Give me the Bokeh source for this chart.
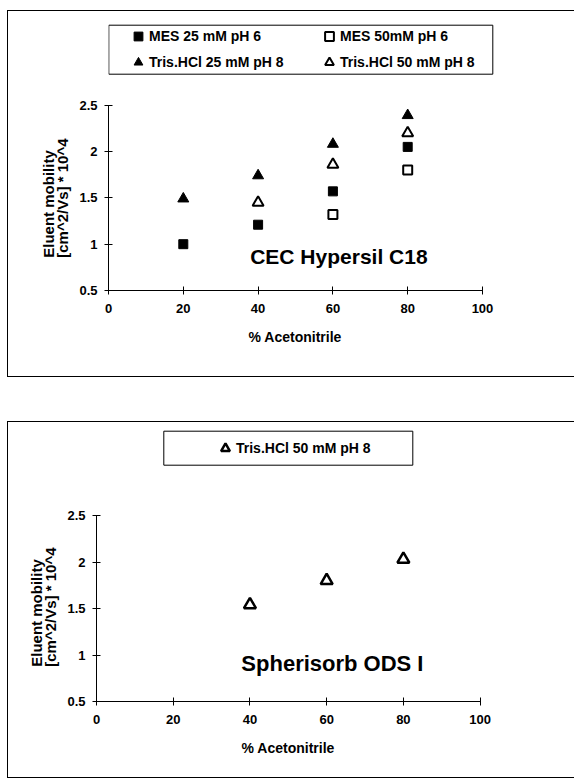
from bokeh.plotting import figure
from bokeh.models import (Range1d, Legend, LegendItem, Label, FixedTicker,
                          CustomJSTickFormatter, BoxAnnotation, Title)
from bokeh.embed import file_html
from bokeh.resources import INLINE

FONT = "Liberation Sans"

# ---- data ----
acn_top = [20, 40, 60, 80]
mes25_top = [1.00, 1.21, 1.57, 2.05]
acn_mes50 = [60, 80]
mes50_top = [1.32, 1.80]
tris25_top = [1.49, 1.74, 2.08, 2.39]
acn_tris50 = [40, 60, 80]
tris50_top = [1.45, 1.86, 2.20]

acn_bottom = [40, 60, 80]
tris50_bottom = [1.54, 1.80, 2.03]

x_ticks = [0, 20, 40, 60, 80, 100]
y_ticks = [0.5, 1, 1.5, 2, 2.5]

labels_top = ["MES 25 mM pH 6", "MES 50mM pH 6",
              "Tris.HCl 25 mM pH 8", "Tris.HCl 50 mM pH 8"]
label_bottom = "Tris.HCl 50 mM pH 8"
title_top = "CEC Hypersil C18"
title_bottom = "Spherisorb ODS I"
x_title = "% Acetonitrile"
y_title = "Eluent mobility\n[cm^2/Vs] * 10^4"

X_MIN, X_MAX = 0, 100
Y_MIN, Y_MAX = 0.5, 2.5


def make_fig(width, height, left, bottom, axis_w, axis_h, margin, styles,
             xt_off, yt_off):
    # frame spans the panel's free area; axes are bounded to the data window
    frame_w = width - left
    frame_h = height - bottom
    x_end = X_MIN + (X_MAX - X_MIN) * frame_w / axis_w
    y_end = Y_MIN + (Y_MAX - Y_MIN) * frame_h / axis_h
    p = figure(width=width, height=height,
               x_range=Range1d(X_MIN, x_end), y_range=Range1d(Y_MIN, y_end),
               output_backend="svg", toolbar_location=None,
               min_border_left=left, min_border_right=0,
               min_border_top=0, min_border_bottom=bottom)
    p.margin = margin
    p.styles = styles
    p.outline_line_color = None
    p.xgrid.visible = False
    p.ygrid.visible = False
    p.background_fill_color = "white"
    p.border_fill_color = "white"
    for ax in (p.xaxis[0], p.yaxis[0]):
        ax.axis_line_color = "black"
        ax.axis_line_width = 1
        ax.major_tick_line_color = "black"
        ax.major_tick_in = 4
        ax.major_tick_out = 4
        ax.minor_tick_line_color = None
        ax.major_label_text_font = FONT
        ax.major_label_text_font_style = "bold"
        ax.major_label_text_font_size = "13px"
        ax.major_label_text_color = "black"
    p.xaxis[0].bounds = (X_MIN, X_MAX)
    p.yaxis[0].bounds = (Y_MIN, Y_MAX)
    p.xaxis[0].ticker = FixedTicker(ticks=x_ticks)
    p.yaxis[0].ticker = FixedTicker(ticks=y_ticks)
    p.yaxis[0].formatter = CustomJSTickFormatter(code="return String(tick);")
    p.xaxis[0].major_label_standoff = 9
    p.yaxis[0].major_label_standoff = 7
    # axis titles, placed along the bounded axes
    p.add_layout(Title(text=x_title, align="left", offset=xt_off, standoff=22,
                       text_font=FONT, text_font_style="bold",
                       text_font_size="14px", text_color="black"), "below")
    p.add_layout(Title(text=y_title, align="right", offset=yt_off,
                       standoff=11, text_line_height=0.85,
                       text_font=FONT, text_font_style="bold",
                       text_font_size="15px", text_color="black"), "left")
    return p


border = {"border-top": "1px solid black",
          "border-left": "1px solid black",
          "border-bottom": "1px solid black"}

# ---------------- top panel ----------------
p1 = make_fig(567, 367, 100, 88, 374, 185.3, (10, 0, 0, 7), border,
              140, 127)


def top_x(px):
    return (px - 107.7) / 374 * 100


def top_y(py):
    return 0.5 + (289.3 - py) / 185.3 * 2


r_mes25 = p1.scatter(acn_top, mes25_top, marker="square", size=9,
                     fill_color="black", line_color="black")
r_mes50 = p1.scatter(acn_mes50, mes50_top, marker="square", size=9,
                     fill_color="white", line_color="black", line_width=2)
r_tris25 = p1.scatter(acn_top, tris25_top, marker="triangle", size=11,
                      fill_color="black", line_color="black")
r_tris50 = p1.scatter(acn_tris50, tris50_top, marker="triangle", size=11,
                      fill_color="white", line_color="black", line_width=2)

p1.add_layout(BoxAnnotation(left=top_x(108), right=top_x(492),
                            top=top_y(24), bottom=top_y(73),
                            fill_color="white", fill_alpha=1,
                            line_color="black", line_alpha=1, line_width=1))

leg1 = Legend(items=[LegendItem(label=labels_top[0], renderers=[r_mes25]),
                     LegendItem(label=labels_top[2], renderers=[r_tris25]),
                     LegendItem(label=labels_top[1], renderers=[r_mes50]),
                     LegendItem(label=labels_top[3], renderers=[r_tris50])],
              location=(19, 217), ncols=2,
              padding=0, spacing=4, margin=0,
              glyph_width=22, glyph_height=22, label_standoff=0,
              label_width=165, label_height=22,
              label_text_font=FONT, label_text_font_style="bold",
              label_text_font_size="14px", label_text_color="black",
              border_line_color=None,
              background_fill_alpha=0)
p1.add_layout(leg1)

p1.add_layout(Label(x=61.6, y=0.87, text=title_top, text_font=FONT,
                    text_font_style="bold", text_font_size="21px",
                    text_color="black",
                    text_align="center", text_baseline="middle"))

# ---------------- bottom panel ----------------
p2 = make_fig(567, 357, 88, 78, 383.6, 186, (44, 0, 0, 7), border,
              145, 125)


def bot_x(px):
    return (px - 95.7) / 383.6 * 100


def bot_y(py):
    return 0.5 + (703.3 - py) / 186 * 2


r_b = p2.scatter(acn_bottom, tris50_bottom, marker="triangle", size=12,
                 fill_color="white", line_color="black", line_width=2.5)
p2.add_layout(BoxAnnotation(left=bot_x(163), right=bot_x(412),
                            top=bot_y(433), bottom=bot_y(467),
                            fill_color="white", fill_alpha=1,
                            line_color="black", line_alpha=1, line_width=1))
leg2 = Legend(items=[LegendItem(label=label_bottom, renderers=[r_b])],
              location=(118, 242), padding=0, spacing=0, margin=0,
              glyph_width=22, glyph_height=22, label_standoff=0,
              label_height=22,
              label_text_font=FONT, label_text_font_style="bold",
              label_text_font_size="14px", label_text_color="black",
              border_line_color=None,
              background_fill_alpha=0)
p2.add_layout(leg2)
p2.add_layout(Label(x=61.5, y=0.91, text=title_bottom, text_font=FONT,
                    text_font_style="bold", text_font_size="22px",
                    text_color="black",
                    text_align="center", text_baseline="middle"))

# two independent panels (kept as separate roots so their frames are not aligned)
open("out.html", "w").write(file_html([p1, p2], INLINE))
